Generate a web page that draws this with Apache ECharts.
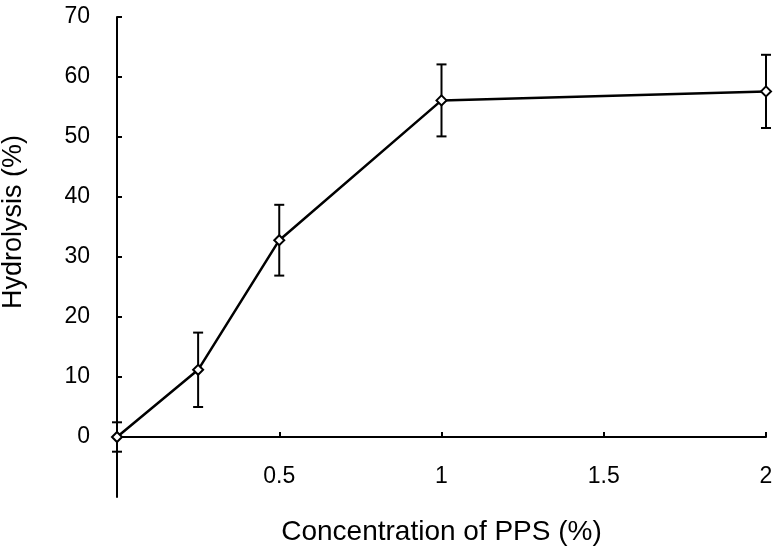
<!DOCTYPE html>
<html>
<head>
<meta charset="utf-8">
<script src="https://cdn.jsdelivr.net/npm/echarts@6/dist/echarts.min.js"></script>
<style>html,body{margin:0;padding:0;background:#fff}#c{width:775px;height:550px}</style>
</head>
<body>
<div id="c"></div>
<script>
const concentration = [0, 0.25, 0.5, 1, 2];
const hydrolysis = [0, 11.2, 32.8, 56.1, 57.6];
const errorBars = [2.45, 6.2, 5.9, 6.0, 6.1];
const xTicks = [0.5, 1, 1.5, 2];
const yTicks = [0, 10, 20, 30, 40, 50, 60, 70];
const xTitle = 'Concentration of PPS (%)';
const yTitle = 'Hydrolysis (%)';

const FONT = 'Liberation Sans';
const chart = echarts.init(document.getElementById('c'));
const pts = concentration.map((c, i) => [c, hydrolysis[i]]);
const errs = concentration.map((c, i) => [c, hydrolysis[i] - errorBars[i], hydrolysis[i] + errorBars[i]]);

chart.setOption({
  animation: false,
  grid: { left: 117, right: 9, top: 17, bottom: 53, containLabel: false, outerBoundsMode: 'none' },
  xAxis: {
    type: 'value', min: 0, max: 2, interval: 0.5,
    name: xTitle, nameLocation: 'middle', nameGap: 21,
    nameTextStyle: { fontFamily: FONT, fontSize: 28, color: '#000' },
    axisLine: { onZero: true, lineStyle: { color: '#000', width: 2 } },
    axisTick: { show: true, inside: true, length: 5, customValues: xTicks, lineStyle: { color: '#000', width: 2 } },
    axisLabel: { customValues: xTicks, margin: -32, fontFamily: FONT, fontSize: 23, color: '#000' },
    splitLine: { show: false }
  },
  yAxis: {
    type: 'value', min: -10, max: 70, interval: 10,
    name: yTitle, nameLocation: 'middle', nameGap: 90,
    nameTextStyle: { fontFamily: FONT, fontSize: 27, color: '#000', padding: [0, 0, 0, 70] },
    axisLine: { onZero: false, lineStyle: { color: '#000', width: 2 } },
    axisTick: { show: true, inside: true, length: 5, customValues: yTicks, lineStyle: { color: '#000', width: 2 } },
    axisLabel: { customValues: yTicks, margin: 27, fontFamily: FONT, fontSize: 23, color: '#000' },
    splitLine: { show: false }
  },
  series: [
    {
      type: 'custom', z: 1,
      data: errs,
      renderItem: function (params, api) {
        const x = api.value(0);
        const lo = api.coord([x, api.value(1)]);
        const hi = api.coord([x, api.value(2)]);
        const w = 5;
        const st = { stroke: '#000', lineWidth: 2 };
        return {
          type: 'group',
          children: [
            { type: 'line', shape: { x1: lo[0], y1: lo[1], x2: hi[0], y2: hi[1] }, style: st },
            { type: 'line', shape: { x1: lo[0] - w, y1: lo[1], x2: lo[0] + w, y2: lo[1] }, style: st },
            { type: 'line', shape: { x1: hi[0] - w, y1: hi[1], x2: hi[0] + w, y2: hi[1] }, style: st }
          ]
        };
      }
    },
    {
      type: 'line', z: 3,
      data: pts,
      symbol: 'diamond', symbolSize: 10,
      lineStyle: { color: '#000', width: 2.5 },
      itemStyle: { color: '#fff', borderColor: '#000', borderWidth: 2 }
    }
  ]
});
</script>
</body>
</html>
